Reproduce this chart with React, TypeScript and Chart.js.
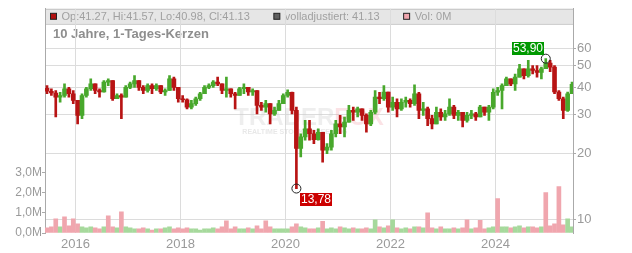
import React, { useEffect, useRef } from 'react';
import { Chart, registerables } from 'chart.js';

Chart.register(...registerables);

// ---- data (monthly candles, June 2015 .. June 2025) ----
const FIRST_YEAR = 2015;
const FIRST_MONTH = 6;

const openP = [
  39.5, 38.3, 37.6, 36.0, 36.6, 39.3, 37.3, 34.8, 29.7, 36.6,
  39.3, 41.4, 38.6, 38.0, 42.1, 42.8, 35.4, 36.6, 36.0, 39.9,
  41.4, 42.8, 39.9, 38.6, 40.6, 39.3, 40.6, 38.0, 38.6, 43.6,
  39.9, 35.4, 35.0, 32.4, 33.6, 35.4, 37.3, 39.9, 40.6, 42.1,
  41.4, 38.6, 39.3, 37.3, 36.6, 39.3, 39.9, 38.0, 38.6, 33.0,
  32.4, 33.6, 30.2, 31.3, 33.6, 36.6, 37.9, 31.3, 21.0, 23.7,
  25.8, 24.5, 23.0, 24.9, 20.6, 21.3, 24.5, 27.2, 26.3, 27.7,
  31.3, 30.7, 31.8, 29.7, 27.2, 30.7, 36.0, 35.4, 38.0, 32.4,
  34.1, 31.8, 34.1, 34.8, 33.6, 37.3, 31.3, 31.8, 28.7, 27.2,
  30.7, 29.2, 30.2, 32.4, 29.7, 30.7, 28.2, 29.7, 30.2, 29.2,
  32.4, 30.7, 32.4, 37.9, 38.6, 40.6, 43.6, 41.4, 44.4, 48.5,
  45.1, 48.5, 47.6, 46.7, 48.5, 51.5, 49.3, 38.0, 35.4, 31.3,
  37.3,
];
const highP = [
  40.6, 39.3, 38.6, 37.9, 41.4, 39.9, 38.6, 34.8, 37.3, 39.9,
  43.6, 41.4, 39.3, 42.8, 43.6, 42.8, 37.3, 37.3, 40.6, 42.1,
  45.1, 42.8, 40.6, 41.4, 41.4, 41.4, 40.6, 39.3, 45.1, 44.4,
  39.9, 36.6, 35.4, 34.8, 36.0, 37.9, 40.6, 41.4, 42.8, 44.4,
  41.4, 44.4, 39.3, 37.9, 39.9, 41.4, 39.9, 39.3, 38.6, 34.1,
  34.8, 33.6, 32.4, 34.8, 37.3, 38.9, 38.0, 32.4, 24.5, 28.2,
  28.2, 25.4, 25.8, 24.9, 22.1, 25.4, 28.2, 29.7, 29.2, 33.0,
  32.4, 32.4, 31.8, 30.2, 31.3, 38.6, 37.9, 40.6, 38.0, 36.0,
  35.4, 35.4, 36.0, 35.4, 41.0, 37.9, 34.1, 32.4, 29.7, 32.4,
  31.8, 31.3, 35.4, 33.0, 31.3, 30.7, 30.7, 31.3, 30.7, 33.0,
  32.4, 33.0, 39.3, 39.9, 41.4, 44.4, 43.6, 45.9, 50.8, 48.5,
  53.0, 50.1, 50.1, 49.3, 53.9, 53.0, 50.1, 38.6, 36.0, 38.0,
  42.1,
];
const lowP = [
  37.3, 36.6, 29.2, 34.1, 36.0, 36.0, 33.6, 27.2, 28.7, 36.0,
  38.6, 37.3, 36.0, 37.9, 40.6, 34.8, 35.4, 28.7, 36.0, 39.3,
  39.9, 38.6, 37.3, 37.9, 37.3, 38.6, 37.3, 36.6, 38.6, 38.6,
  34.1, 34.1, 31.8, 31.8, 33.0, 34.8, 37.3, 39.3, 39.9, 40.6,
  37.3, 36.0, 36.0, 31.8, 36.6, 37.3, 36.6, 36.6, 30.2, 31.3,
  30.7, 27.2, 29.7, 31.3, 33.6, 36.0, 30.2, 13.78, 19.2, 22.9,
  22.9, 22.1, 22.9, 18.2, 19.9, 20.6, 23.7, 24.5, 23.7, 27.7,
  28.2, 29.2, 28.2, 24.9, 26.7, 30.2, 33.6, 34.8, 30.7, 31.3,
  29.2, 31.3, 32.4, 32.4, 33.0, 28.7, 29.7, 26.7, 25.8, 27.2,
  28.2, 28.2, 29.7, 28.7, 28.2, 26.3, 27.7, 28.7, 28.2, 29.2,
  29.7, 28.2, 31.8, 36.6, 31.8, 40.6, 40.6, 38.6, 44.4, 43.6,
  44.4, 45.9, 44.4, 43.6, 48.5, 47.0, 37.3, 34.8, 28.7, 31.0,
  37.3,
];
const closeP = [
  38.3, 37.6, 36.0, 36.6, 39.3, 37.3, 34.8, 29.7, 36.6, 39.3,
  41.4, 38.6, 38.0, 42.1, 42.8, 35.4, 36.6, 36.0, 39.9, 41.4,
  42.8, 39.9, 38.6, 40.6, 39.3, 40.6, 38.0, 38.6, 43.6, 39.9,
  35.4, 35.0, 32.4, 33.6, 35.4, 37.3, 39.9, 40.6, 42.1, 41.4,
  38.6, 39.3, 37.3, 36.6, 39.3, 39.9, 38.0, 38.6, 33.0, 32.4,
  33.6, 30.2, 31.3, 33.6, 36.6, 37.9, 31.3, 21.0, 23.7, 25.8,
  24.5, 23.0, 24.9, 20.6, 21.3, 24.5, 27.2, 26.3, 27.7, 31.3,
  30.7, 31.8, 29.7, 27.2, 30.7, 36.0, 35.4, 38.0, 32.4, 34.1,
  31.8, 34.1, 34.8, 33.6, 37.3, 31.3, 31.8, 28.7, 27.2, 30.7,
  29.2, 30.2, 32.4, 29.7, 30.7, 28.2, 29.7, 30.2, 29.2, 32.4,
  30.7, 32.4, 37.9, 38.6, 40.6, 43.6, 41.4, 44.4, 48.5, 45.1,
  48.5, 47.6, 46.7, 48.5, 51.5, 49.3, 38.0, 35.4, 31.3, 37.3,
  41.13,
];
// volume in millions
const volumeM = [
  0.25, 0.3, 0.7, 0.3, 0.8, 0.35, 0.7, 0.45, 0.3, 0.25, 0.3,
  0.25, 0.2, 0.3, 0.85, 0.3, 0.25, 1.05, 0.3, 0.25, 0.2,
  0.2, 0.25, 0.2, 0.15, 0.2, 0.2, 0.25, 0.3, 0.2, 0.25,
  0.2, 0.25, 0.2, 0.2, 0.15, 0.2, 0.2, 0.25, 0.2, 0.3,
  0.6, 0.2, 0.3, 0.2, 0.2, 0.25, 0.2, 0.35, 0.2, 0.6,
  0.3, 0.2, 0.2, 0.2, 0.2, 0.3, 0.45, 0.3, 0.25, 0.2,
  0.2, 0.25, 0.58, 0.2, 0.25, 0.2, 0.3, 0.25, 0.2, 0.25,
  0.2, 0.2, 0.25, 0.2, 0.65, 0.3, 0.25, 0.35, 0.65, 0.25,
  0.2, 0.25, 0.2, 0.3, 0.3, 0.25, 1.0, 0.25, 0.2, 0.3,
  0.2, 0.2, 0.25, 0.2, 0.25, 0.65, 0.2, 0.25, 0.62, 0.2,
  0.25, 0.3, 1.7, 0.3, 0.3, 0.25, 0.3, 0.35, 0.25, 0.3,
  0.3, 0.25, 0.3, 2.0, 0.35, 0.45, 2.3, 0.4, 0.7, 0.3,
];
// months whose tallest volume day was a down day (pink spike in the picture)
const volumeDownMonths = [2, 4, 6, 14, 17, 41, 50, 63, 87, 96, 99, 103, 114, 117];

const yearTicks = [2016, 2018, 2020, 2022, 2024];
const priceTicks = [10, 20, 30, 40, 50, 60];
const volumeTicksM = [0, 1, 2, 3];
const X_MIN = 2015.42;
const X_MAX = 2025.477;
const PRICE_MIN = 8.64;
const PRICE_MAX = 91;
const VOL_MAX_M = 11.08;

const TITLE = '10 Jahre, 1-Tages-Kerzen';
const legendTexts = [
  'Op:41.27, Hi:41.57, Lo:40.98, Cl:41.13',
  'volladjustiert: 41.13',
  'Vol: 0M',
];
const legendSwatches = ['#b01010', '#606060', '#f0a6ae'];

const UP = '#48a82c';
const DOWN = '#b81414';
const VOL_UP = '#a6d99c';
const VOL_DOWN = '#f0a6ae';
const FONT = 'Arial, "Liberation Sans", sans-serif';

const monthPos = (k: number) => FIRST_YEAR + (FIRST_MONTH - 1 + k + 0.5) / 12;
const fmt = (v: number) => v.toFixed(2).replace('.', ',');

const decorPlugin = {
  id: 'decor',
  beforeDraw(chart: any) {
    const { ctx, chartArea: a } = chart;
    ctx.save();
    ctx.fillStyle = '#e6e6e6';
    ctx.fillRect(a.left, a.top, a.right - a.left, 15);
    ctx.strokeStyle = '#c4c4c4';
    ctx.lineWidth = 1;
    ctx.beginPath();
    ctx.moveTo(a.left, a.top + 0.5);
    ctx.lineTo(a.right, a.top + 0.5);
    ctx.moveTo(a.left, a.top + 15.5);
    ctx.lineTo(a.right, a.top + 15.5);
    ctx.stroke();
    ctx.font = `11px ${FONT}`;
    ctx.textBaseline = 'middle';
    let x = a.left + 5.5;
    const cy = a.top + 8;
    legendTexts.forEach((t, i) => {
      ctx.fillStyle = legendSwatches[i];
      ctx.fillRect(x, cy - 3.5, 6, 6);
      ctx.strokeStyle = '#222';
      ctx.strokeRect(x, cy - 3.5, 6, 6);
      ctx.fillStyle = '#a0a0a0';
      ctx.fillText(t, x + 11, cy + 0.5);
      x += 11 + ctx.measureText(t).width + 24;
    });
    ctx.font = `bold 13px ${FONT}`;
    ctx.fillStyle = '#8e8e8e';
    ctx.fillText(TITLE, a.left + 8, a.top + 25.5);
    ctx.restore();
  },
  beforeDatasetsDraw(chart: any) {
    const { ctx, chartArea: a } = chart;
    const cx = (a.left + a.right) / 2;
    const cy = (a.top + a.bottom) / 2;
    ctx.save();
    ctx.font = `bold 24px ${FONT}`;
    ctx.textBaseline = 'alphabetic';
    const w1 = ctx.measureText('TRADER').width;
    const w2 = ctx.measureText('FOX').width;
    const sx = cx - (w1 + w2) / 2;
    ctx.fillStyle = 'rgba(205,205,205,0.35)';
    ctx.fillText('TRADER', sx, cy + 4);
    ctx.fillStyle = 'rgba(240,140,150,0.25)';
    ctx.fillText('FOX', sx + w1, cy + 4);
    ctx.font = `bold 7px ${FONT}`;
    ctx.fillStyle = 'rgba(205,205,205,0.45)';
    ctx.fillText('REALTIME STOCK SCREENING', sx + 8, cy + 13);
    ctx.restore();
  },
  afterDatasetsDraw(chart: any) {
    const { ctx } = chart;
    const xs = chart.scales.x;
    const ys = chart.scales.y;
    let lo = 0;
    let hi = 0;
    lowP.forEach((v, i) => { if (v < lowP[lo]) lo = i; });
    highP.forEach((v, i) => { if (v > highP[hi]) hi = i; });
    const lx = xs.getPixelForValue(monthPos(lo));
    const ly = ys.getPixelForValue(lowP[lo]);
    const hx = xs.getPixelForValue(monthPos(hi));
    const hy = ys.getPixelForValue(highP[hi]);
    ctx.save();
    ctx.strokeStyle = '#222';
    ctx.lineWidth = 1;
    ctx.beginPath();
    ctx.arc(lx, ly, 4.5, 0, Math.PI * 2);
    ctx.stroke();
    ctx.beginPath();
    ctx.arc(hx, hy, 4.5, 0, Math.PI * 2);
    ctx.stroke();
    ctx.font = `12px ${FONT}`;
    ctx.textAlign = 'center';
    ctx.textBaseline = 'middle';
    ctx.fillStyle = '#cc0000';
    ctx.fillRect(Math.round(lx + 3.5), Math.round(ly + 4), 32, 13);
    ctx.fillStyle = '#fff';
    ctx.fillText(fmt(lowP[lo]), Math.round(lx + 3.5) + 16, Math.round(ly + 4) + 7);
    ctx.fillStyle = '#009900';
    ctx.fillRect(Math.round(hx - 34), Math.round(hy - 17), 32, 13);
    ctx.fillStyle = '#fff';
    ctx.fillText(fmt(highP[hi]), Math.round(hx - 34) + 16, Math.round(hy - 17) + 7);
    ctx.restore();
  },
};

export default function App() {
  const ref = useRef<HTMLCanvasElement>(null);
  useEffect(() => {
    if (!ref.current) return;
    const isUp = (i: number) => closeP[i] >= openP[i];
    const candleColors = openP.map((_, i) => (isUp(i) ? UP : DOWN));
    const volColors = volumeM.map((_, i) =>
      volumeDownMonths.includes(i) ? VOL_DOWN : isUp(i) ? VOL_UP : VOL_DOWN);
    const chart = new Chart(ref.current, {
      type: 'bar',
      data: {
        datasets: [
          {
            label: 'body',
            data: openP.map((o, i) => ({ x: monthPos(i), y: [Math.min(o, closeP[i]), Math.max(o, closeP[i])] })) as any,
            backgroundColor: candleColors,
            barThickness: 4,
            minBarLength: 1,
            grouped: false,
            yAxisID: 'y',
            order: 0,
          },
          {
            label: 'wick',
            data: lowP.map((l, i) => ({ x: monthPos(i), y: [l, highP[i]] })) as any,
            backgroundColor: candleColors,
            barThickness: 2,
            grouped: false,
            yAxisID: 'y',
            order: 1,
          },
          {
            label: 'vol',
            data: volumeM.map((v, i) => ({ x: monthPos(i), y: v * 1e6 })) as any,
            backgroundColor: volColors,
            barThickness: 4,
            grouped: false,
            yAxisID: 'yv',
            order: 2,
          },
        ],
      },
      options: {
        animation: false,
        responsive: false,
        events: [],
        layout: { padding: { top: 8, left: 0, right: 0, bottom: 0 } },
        plugins: { legend: { display: false }, tooltip: { enabled: false } },
        scales: {
          x: {
            type: 'linear',
            position: 'bottom',
            min: X_MIN,
            max: X_MAX,
            bounds: 'data',
            offset: false,
            grid: { color: '#dcdcdc', drawTicks: false, offset: false },
            border: { display: false },
            ticks: { color: '#9a9a9a', font: { size: 13, family: FONT }, padding: 4, callback: (v: any) => String(v) },
            afterBuildTicks: (s: any) => { s.ticks = yearTicks.map((v) => ({ value: v })); },
            afterFit: (s: any) => { s.height = 20; },
          },
          y: {
            type: 'logarithmic',
            position: 'right',
            min: PRICE_MIN,
            max: PRICE_MAX,
            bounds: 'data',
            grid: { color: '#dcdcdc', tickColor: '#aaa', tickLength: 3 },
            border: { color: '#aaa' },
            ticks: { color: '#9a9a9a', font: { size: 13, family: FONT }, padding: 1, callback: (v: any) => String(v) },
            afterBuildTicks: (s: any) => { s.ticks = priceTicks.map((v) => ({ value: v })); },
            afterFit: (s: any) => { s.width = 59; },
          },
          yv: {
            type: 'linear',
            position: 'left',
            min: 0,
            max: VOL_MAX_M * 1e6,
            bounds: 'data',
            grid: { drawOnChartArea: false, tickColor: '#aaa', tickLength: 3 },
            border: { color: '#aaa' },
            ticks: {
              color: '#9a9a9a',
              font: { size: 12, family: FONT },
              padding: 0,
              callback: (v: any) => (v / 1e6).toFixed(1).replace('.', ',') + 'M',
            },
            afterBuildTicks: (s: any) => { s.ticks = volumeTicksM.map((v) => ({ value: v * 1e6 })); },
            afterFit: (s: any) => { s.width = 45; },
          },
        },
      } as any,
      plugins: [decorPlugin],
    });
    return () => chart.destroy();
  }, []);
  return (
    <div style={{ position: 'absolute', left: 0, top: 0, width: 632, height: 253, background: '#fff' }}>
      <canvas ref={ref} width={632} height={253} style={{ display: 'block' }} />
    </div>
  );
}
